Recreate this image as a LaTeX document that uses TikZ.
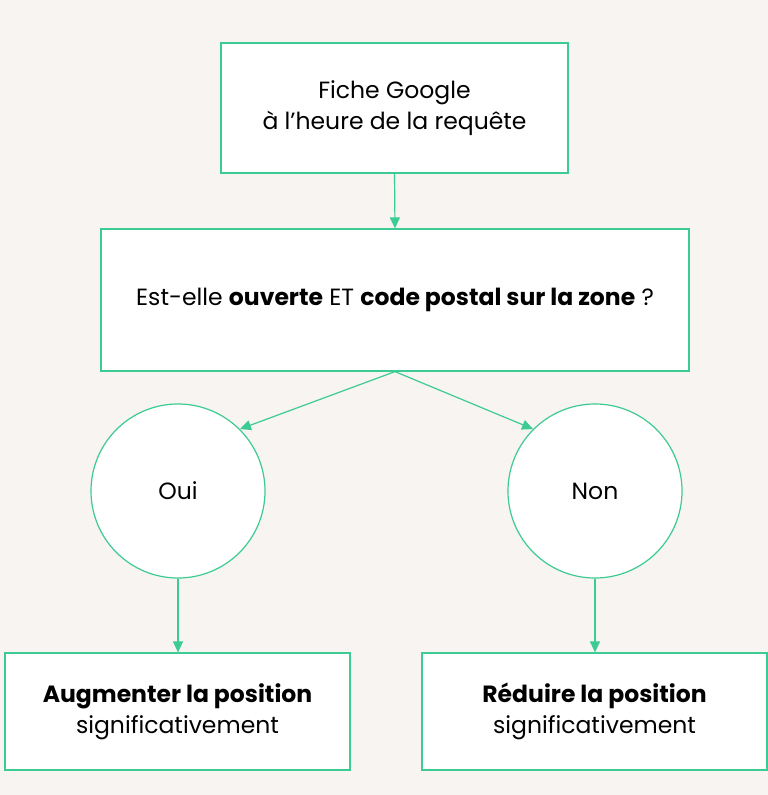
\documentclass[tikz,border=0pt]{standalone}
\usepackage{fontspec}
\setmainfont{Poppins}
\usetikzlibrary{arrows.meta}
\definecolor{bg}{HTML}{F8F4F1}
\definecolor{gr}{HTML}{3CCB92}
\tikzset{
  box/.style={draw=gr,line width=1.2pt,fill=white,rectangle,align=center,font=\fontsize{23.5}{31}\selectfont,inner sep=0pt},
  circ/.style={draw=gr,line width=1.2pt,fill=white,circle,minimum size=174pt,font=\fontsize{23.5}{31}\selectfont,inner sep=0pt},
  arr/.style={draw=gr,line width=1.2pt,-{Triangle[length=11pt,width=10pt]}}
}
\begin{document}
\begin{tikzpicture}[x=1pt,y=-1pt]
\fill[bg] (0,0) rectangle (768,795);
\useasboundingbox (0,0) rectangle (768,795);
\node[box,minimum width=347pt,minimum height=130pt] (top) at (394.5,108) {Fiche Google\\à l’heure de la requête};
\node[box,minimum width=588pt,minimum height=142pt] (mid) at (395,300) {Est-elle \textbf{ouverte} ET \textbf{code postal sur la zone} ?};
\node[circ] (oui) at (178,491) {Oui};
\node[circ] (non) at (595,491) {Non};
\node[box,minimum width=345pt,minimum height=117pt] (bl) at (177.5,711.5) {\textbf{Augmenter la position}\\significativement};
\node[box,minimum width=345pt,minimum height=117pt] (br) at (594.5,711.5) {\textbf{Réduire la position}\\significativement};
\draw[arr] (top.south) -- (mid.north);
\draw[arr] (mid.south) -- (oui.45);
\draw[arr] (mid.south) -- (non.135);
\draw[arr] (oui.south) -- (bl.north-|oui.south);
\draw[arr] (non.south) -- (br.north-|non.south);
\end{tikzpicture}
\end{document}
